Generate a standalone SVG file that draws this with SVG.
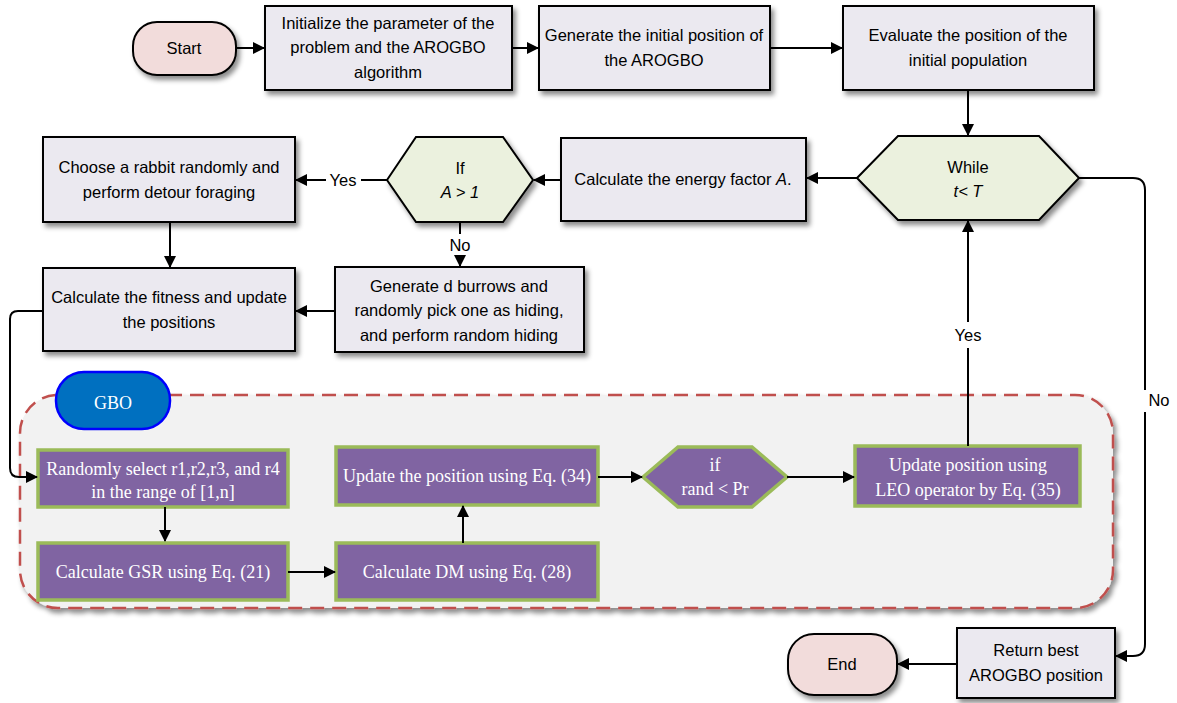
<svg xmlns="http://www.w3.org/2000/svg" width="1177" height="703" viewBox="0 0 1177 703">
<defs>
<filter id="sh" x="-10%" y="-10%" width="130%" height="140%">
<feDropShadow dx="3" dy="4" stdDeviation="2.5" flood-color="#000" flood-opacity="0.45"/>
</filter>
<marker id="ah" markerWidth="12" markerHeight="12" refX="11" refY="6" orient="auto" markerUnits="userSpaceOnUse">
<path d="M0,0 L12,6 L0,12 Z" fill="#000"/>
</marker>
<style>
.box{fill:#ebe9f0;stroke:#000;stroke-width:2;filter:url(#sh)}
.pill{fill:#f2dcdb;stroke:#000;stroke-width:2;filter:url(#sh)}
.hex{fill:#ebf1de;stroke:#000;stroke-width:2;filter:url(#sh)}
.pur{fill:#8064a2;stroke:#9bbb59;stroke-width:3.5}
.t{font-family:"Liberation Sans",Arial,sans-serif;font-size:16.5px;fill:#000;text-anchor:middle}
.s{font-family:"Liberation Serif","Times New Roman",serif;font-size:18px;fill:#fff;text-anchor:middle}
.c{fill:none;stroke:#000;stroke-width:2}
.l{font-family:"Liberation Sans",Arial,sans-serif;font-size:16.5px;fill:#000;text-anchor:middle}
</style>
</defs>
<rect width="1177" height="703" fill="#fff"/>

<g id="gbo-container">
<rect x="20" y="395" width="1093" height="213" rx="38" fill="#f2f2f2" stroke="#c0504d" stroke-width="2.5" stroke-dasharray="14,8" filter="url(#sh)"/>
</g>
<g id="gbo-label">
<rect x="56" y="372" width="114" height="57" rx="28" fill="#0070c0" stroke="#0000ff" stroke-width="2.5"/>
<text class="s" x="113" y="409" font-size="21">GBO</text>
</g>

<g id="start">
<rect class="pill" x="133" y="22" width="103" height="53" rx="24"/>
<text class="t" x="184" y="54">Start</text>
</g>
<g id="init">
<rect class="box" x="265" y="6" width="247" height="84"/>
<text class="t" x="388" y="29">Initialize the parameter of the</text>
<text class="t" x="388" y="53">problem and the AROGBO</text>
<text class="t" x="388" y="78">algorithm</text>
</g>
<g id="gen">
<rect class="box" x="539" y="6" width="231" height="84"/>
<text class="t" x="654" y="41">Generate the initial position of</text>
<text class="t" x="654" y="66">the AROGBO</text>
</g>
<g id="eval">
<rect class="box" x="843" y="6" width="251" height="84"/>
<text class="t" x="968" y="41">Evaluate the position of the</text>
<text class="t" x="968" y="66">initial population</text>
</g>
<g id="while">
<polygon class="hex" points="857,178 898,136 1039,136 1079,178 1039,220 898,220"/>
<text class="t" x="968" y="173">While</text>
<text class="t" x="968" y="197" font-style="italic">t&lt; T</text>
</g>
<g id="energy">
<rect class="box" x="561" y="138" width="245" height="83"/>
<text class="t" x="683" y="185">Calculate the energy factor <tspan font-style="italic">A</tspan>.</text>
</g>
<g id="if">
<polygon class="hex" points="387,180 416,137 503,137 533,180 503,222 416,222"/>
<text class="t" x="460" y="174">If</text>
<text class="t" x="460" y="198" font-style="italic">A &gt; 1</text>
</g>
<g id="choose">
<rect class="box" x="43" y="137" width="252" height="85"/>
<text class="t" x="169" y="173">Choose a rabbit randomly and</text>
<text class="t" x="169" y="198">perform detour foraging</text>
</g>
<g id="fitness">
<rect class="box" x="43" y="268" width="252" height="83"/>
<text class="t" x="169" y="303">Calculate the fitness and update</text>
<text class="t" x="169" y="328">the positions</text>
</g>
<g id="burrows">
<rect class="box" x="335" y="267" width="249" height="85"/>
<text class="t" x="459" y="292">Generate d burrows and</text>
<text class="t" x="459" y="316">randomly pick one as hiding,</text>
<text class="t" x="459" y="341">and perform random hiding</text>
</g>

<g id="randsel">
<rect class="pur" x="38" y="450" width="250" height="57"/>
<text class="s" x="163" y="475">Randomly select r1,r2,r3, and r4</text>
<text class="s" x="163" y="498">in the range of [1,n]</text>
</g>
<g id="gsr">
<rect class="pur" x="38" y="543" width="250" height="57"/>
<text class="s" x="163" y="578">Calculate GSR using Eq. (21)</text>
</g>
<g id="dm">
<rect class="pur" x="336" y="543" width="262" height="57"/>
<text class="s" x="467" y="578">Calculate DM using Eq. (28)</text>
</g>
<g id="upd34">
<rect class="pur" x="336" y="447" width="262" height="58"/>
<text class="s" x="467" y="482">Update the position using Eq. (34)</text>
</g>
<g id="ifrand">
<polygon class="pur" points="643,477 678,447 752,447 787,477 752,507 678,507"/>
<text class="s" x="715" y="471">if</text>
<text class="s" x="715" y="495">rand &lt; Pr</text>
</g>
<g id="leo">
<rect class="pur" x="855" y="446" width="225" height="60"/>
<text class="s" x="968" y="471">Update position using</text>
<text class="s" x="968" y="496">LEO operator by Eq. (35)</text>
</g>

<g id="ret">
<rect class="box" x="957" y="628" width="158" height="70"/>
<text class="t" x="1036" y="656">Return best</text>
<text class="t" x="1036" y="681">AROGBO position</text>
</g>
<g id="end">
<rect class="pill" x="788" y="634" width="109" height="61" rx="26"/>
<text class="t" x="842" y="670">End</text>
</g>

<g id="connectors">
<line class="c" x1="236" y1="48" x2="264" y2="48" marker-end="url(#ah)"/>
<line class="c" x1="512" y1="48" x2="538" y2="48" marker-end="url(#ah)"/>
<line class="c" x1="770" y1="48" x2="842" y2="48" marker-end="url(#ah)"/>
<line class="c" x1="968" y1="90" x2="968" y2="135" marker-end="url(#ah)"/>
<line class="c" x1="857" y1="178" x2="807" y2="178" marker-end="url(#ah)"/>
<line class="c" x1="561" y1="180" x2="534" y2="180" marker-end="url(#ah)"/>
<line class="c" x1="387" y1="180" x2="361" y2="180"/>
<line class="c" x1="326" y1="180" x2="296" y2="180" marker-end="url(#ah)"/>
<text class="l" x="343" y="186">Yes</text>
<line class="c" x1="170" y1="222" x2="170" y2="267" marker-end="url(#ah)"/>
<line class="c" x1="460" y1="222" x2="460" y2="234"/>
<line class="c" x1="460" y1="256" x2="460" y2="266" marker-end="url(#ah)"/>
<text class="l" x="460" y="251">No</text>
<line class="c" x1="335" y1="311" x2="296" y2="311" marker-end="url(#ah)"/>
<path class="c" d="M43,311 H18 Q10,311 10,319 V468 Q10,477 19,477 H37" marker-end="url(#ah)"/>
<line class="c" x1="165" y1="507" x2="165" y2="541" marker-end="url(#ah)"/>
<line class="c" x1="288" y1="572" x2="335" y2="572" marker-end="url(#ah)"/>
<line class="c" x1="463" y1="543" x2="463" y2="506" marker-end="url(#ah)"/>
<line class="c" x1="598" y1="477" x2="642" y2="477" marker-end="url(#ah)"/>
<line class="c" x1="787" y1="477" x2="854" y2="477" marker-end="url(#ah)"/>
<line class="c" x1="968" y1="446" x2="968" y2="348"/>
<line class="c" x1="968" y1="322" x2="968" y2="221" marker-end="url(#ah)"/>
<text class="l" x="968" y="341">Yes</text>
<path class="c" d="M1079,178 H1133 Q1145,178 1145,190 V390"/>
<path class="c" d="M1145,412 V644 Q1145,656 1133,656 H1116" marker-end="url(#ah)"/>
<text class="l" x="1159" y="406">No</text>
<line class="c" x1="957" y1="664" x2="898" y2="664" marker-end="url(#ah)"/>
</g>
</svg>
